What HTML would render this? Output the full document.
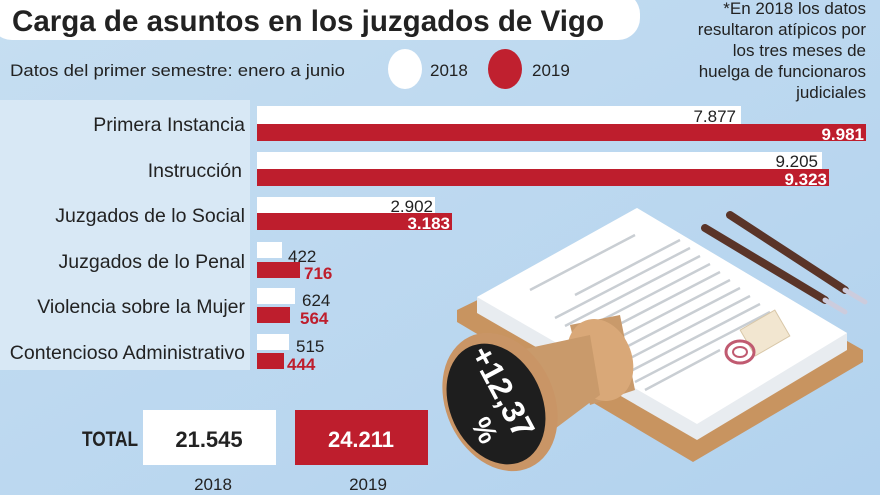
<!DOCTYPE html>
<html><head><meta charset="utf-8"><style>
body{margin:0;width:880px;height:495px;overflow:hidden;font-family:"Liberation Sans",sans-serif;}
</style></head><body>
<svg width="880" height="495" viewBox="0 0 880 495" xmlns="http://www.w3.org/2000/svg" style="display:block" font-family="Liberation Sans, sans-serif">
<defs>
<linearGradient id="bg" x1="0" y1="0" x2="1" y2="1"><stop offset="0" stop-color="#c6def1"/><stop offset="1" stop-color="#b2d2ee"/></linearGradient>
</defs>
<rect width="880" height="495" fill="url(#bg)"/>
<rect x="0" y="100" width="250" height="270" fill="#d8e8f5"/>
<rect x="-10" y="-8" width="650" height="48" rx="22" fill="#fff"/>
<text x="12" y="31" font-weight="bold" font-size="30" fill="#222" textLength="592" lengthAdjust="spacingAndGlyphs">Carga de asuntos en los juzgados de Vigo</text>
<text x="10" y="76" font-size="17" fill="#222" textLength="335" lengthAdjust="spacingAndGlyphs">Datos del primer semestre: enero a junio</text>
<ellipse cx="405" cy="69" rx="17" ry="20" fill="#fff"/>
<text x="430" y="76" font-size="17" fill="#222">2018</text>
<ellipse cx="505" cy="69" rx="17" ry="20" fill="#c0202f"/>
<text x="532" y="76" font-size="17" fill="#222">2019</text>
<g font-size="17" fill="#222" text-anchor="end">
<text x="866" y="14">*En 2018 los datos</text>
<text x="866" y="35">resultaron atípicos por</text>
<text x="866" y="56">los tres meses de</text>
<text x="866" y="77">huelga de funcionaros</text>
<text x="866" y="98">judiciales</text>
</g>
<g font-size="19.5" fill="#222" text-anchor="end">
<text x="245" y="131">Primera Instancia</text>
<text x="242" y="177">Instrucción</text>
<text x="245" y="222">Juzgados de lo Social</text>
<text x="245" y="268">Juzgados de lo Penal</text>
<text x="245" y="313">Violencia sobre la Mujer</text>
<text x="245" y="359">Contencioso Administrativo</text>
</g>
<g fill="#fff">
<rect x="257" y="106" width="484" height="18"/>
<rect x="257" y="152" width="565" height="17"/>
<rect x="257" y="197" width="178" height="16"/>
<rect x="257" y="242" width="25" height="16"/>
<rect x="257" y="288" width="38" height="16"/>
<rect x="257" y="334" width="32" height="16"/>
</g>
<g fill="#be1e2d">
<rect x="257" y="124" width="609" height="17"/>
<rect x="257" y="169" width="572" height="17"/>
<rect x="257" y="213" width="195" height="17"/>
<rect x="257" y="262" width="43" height="16"/>
<rect x="257" y="307" width="33" height="16"/>
<rect x="257" y="353" width="27" height="16"/>
</g>
<g font-size="17" fill="#222" text-anchor="end">
<text x="736" y="122">7.877</text>
<text x="818" y="167">9.205</text>
<text x="433" y="212">2.902</text>
</g>
<g font-size="17" fill="#222">
<text x="288" y="262">422</text>
<text x="302" y="306">624</text>
<text x="296" y="352">515</text>
</g>
<g font-size="17" font-weight="bold" fill="#fff" text-anchor="end">
<text x="864" y="140">9.981</text>
<text x="827" y="185">9.323</text>
<text x="450" y="229">3.183</text>
</g>
<g font-size="17" font-weight="bold" fill="#be1e2d">
<text x="304" y="279">716</text>
<text x="300" y="324">564</text>
<text x="287" y="370">444</text>
</g>
<text x="82" y="446" font-size="21" font-weight="bold" fill="#222" textLength="56" lengthAdjust="spacingAndGlyphs">TOTAL</text>
<rect x="143" y="410" width="133" height="55" fill="#fff"/>
<rect x="295" y="410" width="133" height="55" fill="#be1e2d"/>
<text x="209" y="447" font-size="22" font-weight="bold" fill="#222" text-anchor="middle">21.545</text>
<text x="361" y="447" font-size="22" font-weight="bold" fill="#fff" text-anchor="middle">24.211</text>
<text x="213" y="490" font-size="17" fill="#222" text-anchor="middle">2018</text>
<text x="368" y="490" font-size="17" fill="#222" text-anchor="middle">2019</text>
<!-- illustration -->
<polygon points="457,310 637,222 863,350 863,362 693,462 457,322" fill="#c89460"/>
<polygon points="477,297 637,208 847,333 847,350 697,440 477,313" fill="#e8ecf0"/>
<polygon points="477,297 637,208 847,333 697,424" fill="#fff"/>
<g stroke="#c9ced3" stroke-width="2.5">
<line x1="530" y1="290" x2="635" y2="235"/>
<line x1="575" y1="295" x2="680" y2="240"/>
<line x1="555" y1="318" x2="690" y2="248"/>
<line x1="565" y1="326" x2="700" y2="256"/>
<line x1="575" y1="334" x2="710" y2="264"/>
<line x1="585" y1="342" x2="720" y2="272"/>
<line x1="595" y1="350" x2="730" y2="280"/>
<line x1="605" y1="358" x2="740" y2="288"/>
<line x1="615" y1="366" x2="750" y2="296"/>
<line x1="625" y1="374" x2="760" y2="304"/>
<line x1="635" y1="382" x2="770" y2="312"/>
<line x1="645" y1="390" x2="720" y2="350"/>
</g>
<rect x="745" y="318" width="40" height="30" fill="#f2e6d0" stroke="#d8c7a8" transform="rotate(-30 765 333)"/>
<ellipse cx="740" cy="352" rx="14" ry="11" fill="none" stroke="#c05a70" stroke-width="3"/>
<ellipse cx="740" cy="352" rx="7" ry="5" fill="none" stroke="#c05a70" stroke-width="2"/>
<g stroke-linecap="round">
<line x1="730" y1="215" x2="845" y2="290" stroke="#5a3428" stroke-width="8"/>
<line x1="845" y1="290" x2="865" y2="302" stroke="#ccd" stroke-width="5"/>
<line x1="705" y1="228" x2="825" y2="300" stroke="#5a3428" stroke-width="8"/>
<line x1="825" y1="300" x2="845" y2="312" stroke="#ccd" stroke-width="5"/>
</g>
<path d="M570,325 L620,315 L635,390 L590,405 Z" fill="#c99a6b"/>
<ellipse cx="600" cy="360" rx="32" ry="42" fill="#d9a878" transform="rotate(-20 600 360)"/>
<path d="M520,350 L590,335 L600,395 L540,440 Z" fill="#c99a6b"/>
<ellipse cx="500" cy="402" rx="54" ry="72" fill="#c99566" transform="rotate(-25 500 402)"/>
<ellipse cx="496" cy="404" rx="46" ry="63" fill="#1e1e1e" transform="rotate(-25 496 404)"/>
<text x="502" y="402" font-size="32" font-weight="bold" fill="#fff" text-anchor="middle" transform="rotate(62 502 392)">+12,37</text>
<text x="485" y="440" font-size="28" font-weight="bold" fill="#fff" text-anchor="middle" transform="rotate(62 485 430)">%</text>
</svg>
</body></html>
